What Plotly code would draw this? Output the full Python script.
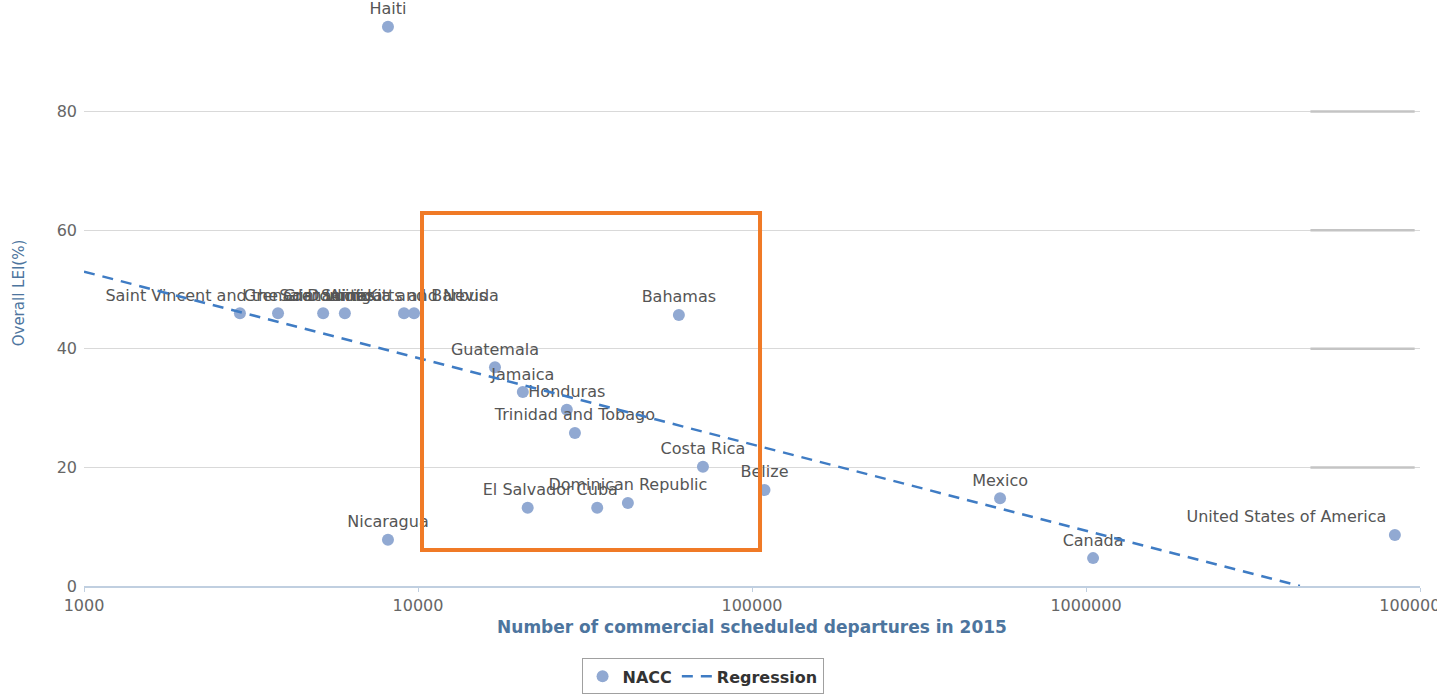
import plotly.graph_objects as go

# ---- data ----
COUNTRIES = [
    "Haiti",
    "Saint Vincent and the Grenadines", "Grenada", "Saint Lucia", "Dominica",
    "Saint Kitts and Nevis", "Antigua and Barbuda",
    "Bahamas", "Guatemala", "Jamaica", "Honduras", "Trinidad and Tobago",
    "Costa Rica", "Belize", "El Salvador", "Cuba", "Dominican Republic",
    "Nicaragua", "Mexico", "Canada", "United States of America",
]
DEPARTURES = [
    8130,
    2930, 3810, 5200, 6040,
    9080, 9730,
    60400, 17000, 20600, 27900, 29500,
    71300, 109000, 21300, 34400, 42500,
    8130, 553000, 1050000, 8410000,
]
LEI = [
    94.3,
    46.0, 46.0, 46.0, 46.0,
    46.0, 46.0,
    45.7, 36.9, 32.7, 29.7, 25.8,
    20.1, 16.2, 13.2, 13.2, 14.0,
    7.8, 14.8, 4.7, 8.6,
]
REG_X = [1000, 4370000]
REG_Y = [53.0, 0.0]

X_TICKS = [1000, 10000, 100000, 1000000, 10000000]
X_TICKTEXT = ["1000", "10000", "100000", "1000000", "10000000"]
Y_TICKS = [0, 20, 40, 60, 80]

FONT = "DejaVu Sans"
positions = ["top left" if c == "United States of America" else "top center" for c in COUNTRIES]

fig = go.Figure()
fig.add_trace(go.Scatter(
    x=DEPARTURES, y=LEI, mode="markers+text", name="<b>NACC</b>",
    text=COUNTRIES, textposition=positions,
    textfont=dict(family=FONT, size=16, color="#555555"),
    marker=dict(size=12, color="#91a9d2"),
    cliponaxis=False,
))
fig.add_trace(go.Scatter(
    x=REG_X, y=REG_Y, mode="lines", name="<b>Regression</b>",
    line=dict(color="#3f7cc4", width=2.5, dash="11px,8px"),
))

# orange highlight box (paper coords)
fig.add_shape(type="rect", xref="paper", yref="paper",
              x0=0.253, x1=0.506, y0=0.0614, y1=0.6365,
              line=dict(color="#f07a26", width=4), fillcolor="rgba(0,0,0,0)")
# darker grid stubs at right
for yv in [20, 40, 60, 80]:
    fig.add_shape(type="line", xref="paper", yref="y",
                  x0=0.918, x1=0.996, y0=yv, y1=yv,
                  line=dict(color="#c4c4c4", width=2.5))

fig.update_layout(
    width=1437, height=695,
    margin=dict(l=84, r=17, t=0, b=109),
    paper_bgcolor="white", plot_bgcolor="white",
    font=dict(family=FONT, color="#666666"),
    showlegend=True,
    legend=dict(orientation="h", x=0.463, xanchor="center", y=-0.185, yanchor="bottom",
                bordercolor="#a0a0a0", borderwidth=1,
                font=dict(family=FONT, size=16, color="#333333")),
    xaxis=dict(
        type="log", range=[3, 7], automargin=False,
        tickvals=X_TICKS, ticktext=X_TICKTEXT,
        showgrid=False, zeroline=False,
        showline=True, linecolor="#c0cfe0", linewidth=2,
        ticks="outside", ticklen=4, tickcolor="#c0cfe0",
        ticklabelstandoff=0, ticklabeloverflow="allow",
        tickfont=dict(family=FONT, size=16, color="#666666"),
        title=dict(text="<b>Number of commercial scheduled departures in 2015</b>",
                   font=dict(family=FONT, size=17, color="#4d759e"), standoff=7),
    ),
    yaxis=dict(
        range=[0, 98.8], tickvals=Y_TICKS,
        showgrid=True, gridcolor="#d9d9d9", gridwidth=1,
        zeroline=False, showline=False,
        ticklabelstandoff=6,
        tickfont=dict(family=FONT, size=16, color="#666666"),
        title=dict(text="Overall LEI(%)",
                   font=dict(family=FONT, size=15, color="#4d759e"), standoff=28),
    ),
)

fig.write_html(
    "out.html",
    config={"displayModeBar": False},
    post_script="document.body.style.margin='0';document.body.style.overflow='hidden';",
)
